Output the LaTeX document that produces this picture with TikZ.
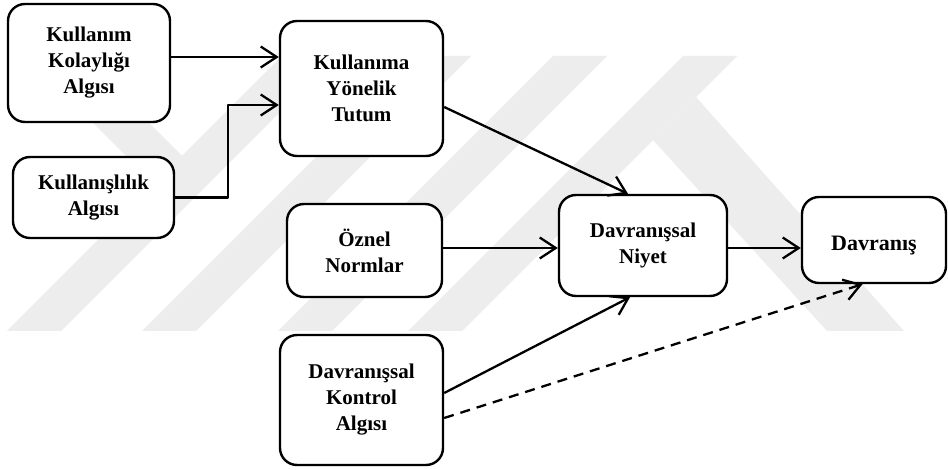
\documentclass[tikz,border=0pt]{standalone}
\usepackage{fontspec}
\setmainfont{Liberation Serif}
\usetikzlibrary{arrows.meta}
\begin{document}
\begin{tikzpicture}[x=1pt,y=-1pt,
  box/.style={draw, line width=2.4pt, rounded corners=17pt, align=center,
    font=\fontsize{21}{26}\selectfont\bfseries, inner sep=0pt, fill=white},
  arr/.style={line width=2.3pt, line join=round, -{Straight Barb[length=16pt,width=21pt]}},
  wm/.style={fill=black!7, draw=none}]
\useasboundingbox (0,0) rectangle (948,470);
\fill[white] (0,0) rectangle (948,470);
% faint watermark
\begin{scope}
  \clip (0,56) rectangle (948,331);
  \foreach \b in {7,142,278,408}
    \fill[wm] (\b,331) -- (\b+54,331) -- (\b+329,56) -- (\b+275,56) -- cycle;
  \fill[wm] (26,56) -- (82,56) -- (208.5,182.5) -- (154,184) -- cycle;
  \fill[wm] (696,97) -- (904,331) -- (827,331) -- (653,140) -- cycle;
\end{scope}
% boxes
\node[box, minimum width=162pt, minimum height=118pt] (B1) at (89,63) {Kullanım\\Kolaylığı\\Algısı};
\node[box, minimum width=161pt, minimum height=81pt] (B2) at (93.5,197.5) {Kullanışlılık\\Algısı};
\node[box, minimum width=163pt, minimum height=135pt] (B3) at (361.5,88.5) {Kullanıma\\Yönelik\\Tutum};
\node[box, minimum width=155pt, minimum height=93pt] (B4) at (364.5,250.5) {Öznel\\Normlar};
\node[box, minimum width=163pt, minimum height=130pt] (B5) at (361.5,400) {Davranışsal\\Kontrol\\Algısı};
\node[box, minimum width=168pt, minimum height=101pt] (B6) at (643,245.5) {Davranışsal\\Niyet};
\node[box, minimum width=144pt, minimum height=86pt, font=\fontsize{22}{26}\selectfont\bfseries] (B7) at (874,240) {\rule{0pt}{25pt}Davranış};
% connectors
\coordinate (k) at (228,0);
\draw[arr] ([yshift=6pt]B1.east) coordinate (s1) -- (s1 -| B3.west);
\draw[arr] (B2.east) -- (B2.east -| k) |- ([yshift=-16.5pt]B3.west);
\draw[arr] ([yshift=-18.5pt]B3.east) -- ([xshift=-15pt]B6.north);
\draw[arr] ([yshift=2.5pt]B4.east) coordinate (s4) -- (s4 -| B6.west);
\draw[arr] ([yshift=-2.5pt]B6.east) coordinate (s5) -- (s5 -| B7.west);
\draw[arr] ([yshift=7pt]B5.east) -- ([xshift=-13pt]B6.south);
\draw[arr, dash pattern=on 10pt off 7pt] ([yshift=-18pt]B5.east) -- ([xshift=-11.5pt]B7.south);
\end{tikzpicture}
\end{document}
